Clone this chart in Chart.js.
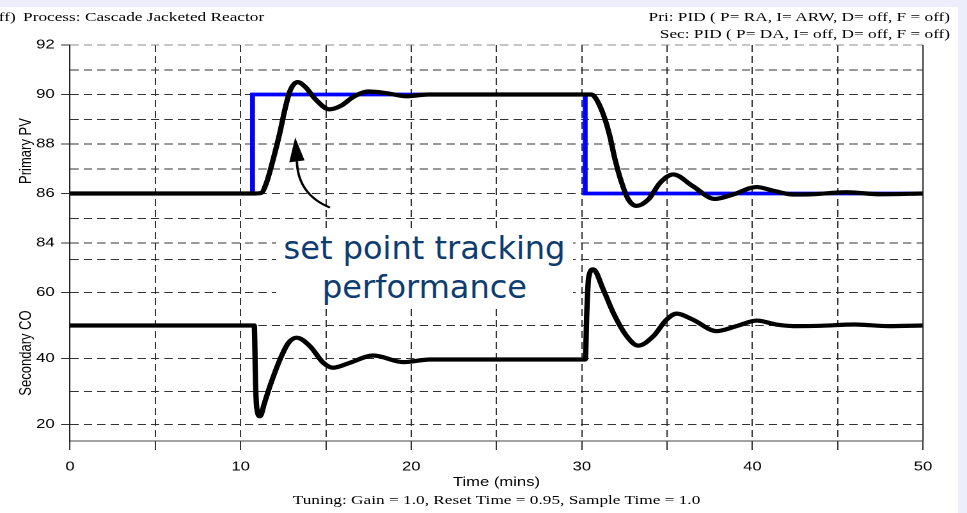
<!DOCTYPE html>
<html><head><meta charset="utf-8">
<script src="https://cdn.jsdelivr.net/npm/chart.js@4.4.1/dist/chart.umd.min.js"></script>
<style>
html,body{margin:0;padding:0;}
body{width:967px;height:513px;overflow:hidden;background:#eceefb;position:relative;}
#paper{position:absolute;left:0;top:7px;width:958px;height:506px;background:#fff;}
#stretch{position:absolute;left:0;top:0;width:756px;height:513px;transform:scaleX(1.2791);transform-origin:0 0;}
#stretch canvas{position:absolute;left:0;top:0;}
.serif{position:absolute;font-family:"Liberation Serif","Times New Roman",serif;font-size:13.5px;line-height:13.5px;white-space:nowrap;color:#000;}
.ytitle{position:absolute;width:140px;height:14px;font-family:"Liberation Sans",Arial,sans-serif;font-size:13px;line-height:14px;text-align:center;white-space:nowrap;color:#000;transform:rotate(-90deg);transform-origin:50% 50%;}
#note{position:absolute;left:276px;top:229px;width:297px;height:77px;background:#fff;color:#0f3c6e;font-family:"DejaVu Sans",Verdana,sans-serif;font-size:32px;line-height:39px;text-align:center;white-space:nowrap;}
</style></head>
<body>
<div id="paper"></div>
<div id="stretch">
  <canvas id="c" width="756" height="513"></canvas>
  <div class="serif" style="left:-1px;top:9.7px;">ff)</div>
  <div class="serif" style="left:18px;top:9.7px;">Process: Cascade Jacketed Reactor</div>
  <div class="serif" style="left:0;width:742.8px;top:9.7px;text-align:right;">Pri: PID ( P= RA, I= ARW, D= off, F = off)</div>
  <div class="serif" style="left:0;width:742.8px;top:26.5px;text-align:right;">Sec: PID ( P= DA, I= off, D= off, F = off)</div>
  <div class="ytitle" style="left:-50.5px;top:144px;">Primary PV</div>
  <div class="ytitle" style="left:-50.5px;top:346px;">Secondary CO</div>
  <div class="serif" style="left:188.2px;width:400px;top:492.7px;text-align:center;">Tuning: Gain = 1.0, Reset Time = 0.95, Sample Time = 1.0</div>
</div>
<div id="note">set point tracking<br>performance</div>
<script>
// ---- data (time in minutes) ----
const pvTime = [0, 5, 10, 10.8, 11.2, 11.5, 11.9, 12.3, 12.6, 12.9, 13.35, 13.8, 14.4, 15.2, 15.9, 16.6, 17.5, 18.6, 19.7, 21, 25, 30, 30.5, 30.7, 31.26, 31.65, 31.94, 32.34, 32.73, 33.2, 33.9, 34.6, 35.36, 36.5, 37.8, 38.87, 40.24, 41.3, 42.4, 43.5, 45.5, 47.5, 50];
const pvVals = [86, 86, 86, 86, 86.02, 86.4, 87.35, 88.45, 89.4, 90.15, 90.5, 90.3, 89.8, 89.4, 89.55, 89.9, 90.12, 90.05, 89.93, 90, 90, 90, 90, 89.95, 89.2, 88.3, 87.4, 86.43, 85.76, 85.5, 85.76, 86.44, 86.77, 86.3, 85.78, 85.96, 86.26, 86.1, 85.96, 85.97, 86.05, 85.97, 86];

const spTime = [0, 10.7, 10.7, 30.2, 30.2, 50];
const spVals = [86, 86, 90, 90, 86, 86];

const coTime = [0, 5, 10, 10.8, 10.88, 10.95, 11.14, 11.4, 11.72, 12.31, 12.8, 13.29, 14.07, 14.85, 15.43, 16.4, 17.78, 19.54, 21.1, 25, 30.2, 30.3, 30.4, 30.67, 31.26, 31.85, 32.63, 33.3, 34.2, 34.97, 35.56, 36.5, 37.9, 39.07, 40.25, 41.4, 42.7, 44, 46, 48, 50];
const coVals = [50, 50, 50, 50, 32, 25, 22.5, 26.5, 31.6, 39.7, 44.7, 46.3, 43.7, 38.7, 37.2, 38.7, 40.9, 38.9, 39.7, 39.7, 39.7, 55, 64.5, 67, 60.9, 53.8, 46.8, 43.9, 46.8, 51.8, 53.6, 51.8, 48.3, 49.8, 51.5, 50.3, 49.8, 49.9, 50.3, 49.8, 50];

const xLabelValues = [0, 10, 20, 30, 40, 50];
const pvLabelValues = [84, 86, 88, 90, 92];
const coLabelValues = [20, 40, 60];
const coGridValues = [20, 30, 40, 50, 60, 70];

// annotation arrow, in data units (time, Primary PV)
const arrowTip = [13.2, 88.27];
const arrowBase = [13.3, 87.3];
const arrowCtrl = [13.36, 85.96];
const arrowTail = [15.24, 85.43];

const pts = (xs, ys) => xs.map((t, i) => ({x: t, y: ys[i]}));
const FONT = {family: '"Liberation Sans", Arial, sans-serif', size: 13};
const CLEAR = 'rgba(0,0,0,0)';
const val = c => (c && c.tick) ? c.tick.value : null;

const framePlugin = {
  id: 'frame',
  afterDatasetsDraw(chart) {
    const {ctx, chartArea} = chart;
    ctx.save();
    ctx.strokeStyle = '#222';
    ctx.lineWidth = 1;
    ctx.beginPath();
    ctx.moveTo(chartArea.right, chartArea.top);
    ctx.lineTo(chartArea.right, chartArea.bottom);
    ctx.stroke();
    const sx = chart.scales.x, sy = chart.scales.yPV;
    const P = a => [sx.getPixelForValue(a[0]), sy.getPixelForValue(a[1])];
    const tip = P(arrowTip), base = P(arrowBase), ctl = P(arrowCtrl), tail = P(arrowTail);
    ctx.strokeStyle = '#000';
    ctx.lineWidth = 1.9;
    ctx.beginPath();
    ctx.moveTo(base[0], base[1]);
    ctx.quadraticCurveTo(ctl[0], ctl[1], tail[0], tail[1]);
    ctx.stroke();
    ctx.fillStyle = '#000';
    const hw = 6;
    ctx.beginPath();
    ctx.moveTo(tip[0], tip[1]);
    ctx.lineTo(base[0] - hw, base[1] + 1);
    ctx.lineTo(base[0] + hw, base[1] - 1);
    ctx.closePath();
    ctx.fill();
    ctx.restore();
  }
};

new Chart(document.getElementById('c'), {
  type: 'line',
  data: {
    datasets: [
      {label: 'Primary PV', data: pts(pvTime, pvVals), yAxisID: 'yPV', borderColor: '#000', borderWidth: 4.2,
       pointRadius: 0, cubicInterpolationMode: 'monotone', borderJoinStyle: 'round', borderCapStyle: 'round', fill: false},
      {label: 'Set Point', data: pts(spTime, spVals), yAxisID: 'yPV', borderColor: '#0000ff', borderWidth: 3.8,
       pointRadius: 0, tension: 0, borderJoinStyle: 'miter', fill: false},
      {label: 'Secondary CO', data: pts(coTime, coVals), yAxisID: 'yCO', borderColor: '#000', borderWidth: 4.2,
       pointRadius: 0, cubicInterpolationMode: 'monotone', borderJoinStyle: 'round', borderCapStyle: 'round', fill: false}
    ]
  },
  options: {
    responsive: false,
    animation: false,
    devicePixelRatio: 2,
    layout: {padding: {left: 0, top: 45, right: 34.4, bottom: 0}},
    plugins: {legend: {display: false}, tooltip: {enabled: false}},
    scales: {
      x: {
        type: 'linear', position: 'bottom', min: 0, max: 50,
        ticks: {stepSize: 5, autoSkip: false, maxRotation: 0, color: '#000', font: FONT, padding: 9,
                callback: v => xLabelValues.includes(v) ? String(v) : ''},
        grid: {color: c => (val(c) === 0 || val(c) === 50) ? CLEAR : '#333', tickColor: '#333', tickLength: 9, lineWidth: 1},
        border: {display: true, color: '#444', width: 1, dash: [7, 4]},
        title: {display: true, text: 'Time (mins)', color: '#000', font: FONT, padding: {top: 0, bottom: 23}},
        afterFit: s => { s.height = 72; }
      },
      yCO: {
        type: 'linear', position: 'left', stack: 'panels', stackWeight: 1, weight: 1, min: 15, max: 75,
        ticks: {stepSize: 5, autoSkip: false, color: '#000', font: FONT, padding: 5,
                callback: v => coLabelValues.includes(v) ? String(v) : ''},
        grid: {color: c => coGridValues.includes(val(c)) ? '#333' : CLEAR,
               tickColor: c => coLabelValues.includes(val(c)) ? '#333' : CLEAR, tickLength: 7, lineWidth: 1},
        border: {display: true, color: '#222', width: 1, dash: [6.5, 4]},
        afterFit: s => { s.width = 54.7; }
      },
      yPV: {
        type: 'linear', position: 'left', stack: 'panels', stackWeight: 1, weight: 2, min: 84, max: 92,
        ticks: {stepSize: 1, autoSkip: false, color: '#000', font: FONT, padding: 5,
                callback: v => pvLabelValues.includes(v) ? String(v) : ''},
        grid: {color: c => val(c) === 92 ? '#8a8a8a' : '#333',
               tickColor: c => pvLabelValues.includes(val(c)) ? '#333' : CLEAR, tickLength: 7, lineWidth: 1},
        border: {display: true, color: '#222', width: 1, dash: [6.5, 4]},
        afterFit: s => { s.width = 54.7; }
      }
    }
  },
  plugins: [framePlugin]
});
</script>
</body></html>
